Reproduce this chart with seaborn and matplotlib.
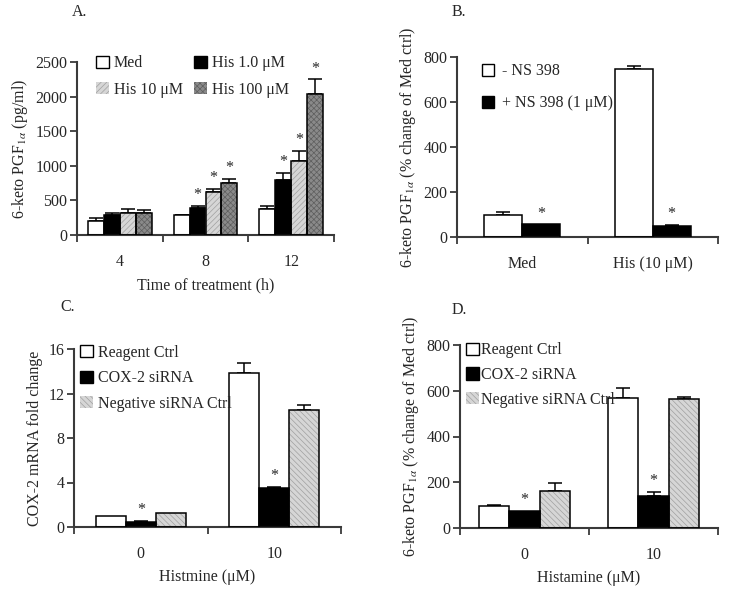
import pandas as pd
import matplotlib.pyplot as plt
import seaborn as sns
from matplotlib.patches import Patch, Rectangle

# ---- data ----
# Panel A: 6-keto PGF1a (pg/ml) by time of treatment
a_times = ['4', '8', '12']
a_series = ['Med', 'His 1.0 μM', 'His 10 μM', 'His 100 μM']
a_values = {
    'Med':        [205, 285, 380],
    'His 1.0 μM': [285, 385, 800],
    'His 10 μM':  [325, 620, 1070],
    'His 100 μM': [325, 750, 2035],
}
a_errors = {
    'Med':        [35, 10, 40],
    'His 1.0 μM': [40, 40, 95],
    'His 10 μM':  [55, 45, 145],
    'His 100 μM': [35, 65, 215],
}
a_stars = {'His 1.0 μM': [1, 2], 'His 10 μM': [1, 2], 'His 100 μM': [1, 2]}

# Panel B: % change of Med ctrl, with / without NS 398
b_groups = ['Med', 'His (10 μM)']
b_series = ['- NS 398', '+ NS 398 (1 μM)']
b_values = {'- NS 398': [100, 745], '+ NS 398 (1 μM)': [56, 50]}
b_errors = {'- NS 398': [12, 16], '+ NS 398 (1 μM)': [0, 5]}
b_stars = {'+ NS 398 (1 μM)': [0, 1]}

# Panel C: COX-2 mRNA fold change
c_groups = ['0', '10']
c_series = ['Reagent Ctrl', 'COX-2 siRNA', 'Negative siRNA Ctrl']
c_values = {'Reagent Ctrl': [1.0, 13.85], 'COX-2 siRNA': [0.42, 3.5],
            'Negative siRNA Ctrl': [1.25, 10.5]}
c_errors = {'Reagent Ctrl': [0, 0.85], 'COX-2 siRNA': [0.1, 0.1],
            'Negative siRNA Ctrl': [0, 0.5]}
c_stars = {'COX-2 siRNA': [0, 1]}

# Panel D: 6-keto PGF1a % change, siRNA
d_groups = ['0', '10']
d_series = ['Reagent Ctrl', 'COX-2 siRNA', 'Negative siRNA Ctrl']
d_values = {'Reagent Ctrl': [95, 570], 'COX-2 siRNA': [74, 138],
            'Negative siRNA Ctrl': [163, 563]}
d_errors = {'Reagent Ctrl': [5, 40], 'COX-2 siRNA': [0, 20],
            'Negative siRNA Ctrl': [32, 10]}
d_stars = {'COX-2 siRNA': [0, 1]}

# fill colour and hatch per style
STYLES = {
    'white': ('white', None, None),
    'black': ('black', None, None),
    'light': ('#d6d6d6', '//////', '#a0a0a0'),
    'dark':  ('#8a8a8a', 'xxxxxx', '#5e5e5e'),
    'lightb': ('#d6d6d6', '\\\\\\\\\\\\', '#a0a0a0'),
}

sns.set_style('white')
plt.rcParams['font.family'] = ['Liberation Serif', 'DejaVu Serif']
plt.rcParams['mathtext.fontset'] = 'stix'
plt.rcParams['hatch.linewidth'] = 0.5
FS = 11.5


def draw_panel(ax, groups, series, values, errors, stars, styles, width, ymax, yticks):
    df = pd.DataFrame([(g, s, values[s][i]) for s in series for i, g in enumerate(groups)],
                      columns=['group', 'series', 'value'])
    sns.barplot(data=df, x='group', y='value', hue='series', order=groups,
                hue_order=series, width=width, gap=0, dodge=True, legend=False,
                palette=['white'] * len(series), ax=ax, zorder=2)
    handles = []
    for cont, s, st in zip(ax.containers, series, styles):
        face, hatch, hcol = STYLES[st]
        for i, p in enumerate(cont.patches):
            p.set_facecolor(face)
            p.set_linewidth(0)
            if hatch:
                p.set_hatch(hatch)
                p.set_edgecolor(hcol)
            ax.add_patch(Rectangle(p.get_xy(), p.get_width(), p.get_height(),
                                   fill=False, edgecolor='black', lw=1.1, zorder=3))
            xc = p.get_x() + p.get_width() / 2
            top = p.get_height()
            err = errors[s][i]
            if err > 0:
                ax.errorbar(xc, top, yerr=[[0], [err]], fmt='none', ecolor='black',
                            elinewidth=1.1, capsize=5, capthick=1.1, zorder=1)
            if i in stars.get(s, []):
                ax.annotate('*', (xc, top + err), xytext=(0, 2), textcoords='offset points',
                            ha='center', va='bottom', fontsize=FS)
        handles.append(Patch(facecolor=face, hatch=hatch,
                             edgecolor=hcol if hatch else 'black', lw=0 if hatch else 1))
    ax.set_ylim(0, ymax)
    ax.set_yticks(yticks)
    ax.set_xlim(-0.5, len(groups) - 0.5)
    ax.set_xticks(range(len(groups)))
    ax.set_xticks([i - 0.5 for i in range(len(groups) + 1)], minor=True)
    ax.tick_params(axis='x', which='major', length=0, pad=14, labelsize=FS)
    ax.tick_params(axis='x', which='minor', length=5, width=1.3, direction='out',
                   bottom=True, color='#3a3a3a')
    ax.tick_params(axis='y', length=5, width=1.3, direction='out', left=True,
                   labelsize=FS, color='#3a3a3a', pad=2)
    for sp in ['top', 'right']:
        ax.spines[sp].set_visible(False)
    for sp in ['left', 'bottom']:
        ax.spines[sp].set_color('#3a3a3a')
        ax.spines[sp].set_linewidth(1.5)
    ax.set_xlabel('')
    ax.set_ylabel('')
    return handles


def rect(l, r, t, b):
    return [l / 729, 1 - b / 589, (r - l) / 729, (b - t) / 589]


fig = plt.figure(figsize=(7.29, 5.89), dpi=100)
LEG = dict(frameon=False, loc='upper left', fontsize=FS, handlelength=0.8,
           handleheight=0.8, borderaxespad=0)

# A
axA = fig.add_axes(rect(77, 334, 62, 235))
hA = draw_panel(axA, a_times, a_series, a_values, a_errors, a_stars,
                ['white', 'black', 'light', 'dark'], 0.74, 2500, range(0, 2501, 500))
order = [0, 2, 1, 3]
axA.legend([hA[i] for i in order], [a_series[i] for i in order], ncol=2,
           bbox_to_anchor=(0.05, 1.075), handletextpad=0.3, columnspacing=0.7,
           labelspacing=0.65, **LEG)
axA.set_ylabel('6-keto PGF$_{1\\alpha}$ (pg/ml)', fontsize=FS)
axA.set_xlabel('Time of treatment (h)', fontsize=FS, labelpad=5)
fig.text(72 / 729, 1 - 12 / 589, 'A.', fontsize=FS, va='center')

# B
axB = fig.add_axes(rect(457, 718, 57, 237))
hB = draw_panel(axB, b_groups, b_series, b_values, b_errors, b_stars,
                ['white', 'black'], 0.58, 800, range(0, 801, 200))
axB.legend(hB, b_series, bbox_to_anchor=(0.07, 1.0), handletextpad=0.5,
           labelspacing=1.0, **LEG)
axB.set_ylabel('6-keto PGF$_{1\\alpha}$ (% change of Med ctrl)', fontsize=FS)
fig.text(452 / 729, 1 - 12 / 589, 'B.', fontsize=FS, va='center')

# C
axC = fig.add_axes(rect(74, 341, 349, 527))
hC = draw_panel(axC, c_groups, c_series, c_values, c_errors, c_stars,
                ['white', 'black', 'lightb'], 0.675, 16, range(0, 17, 4))
axC.legend(hC, c_series, bbox_to_anchor=(0.0, 1.06), handletextpad=0.3,
           labelspacing=0.6, **LEG)
axC.set_ylabel('COX-2 mRNA fold change', fontsize=FS)
axC.set_xlabel('Histmine (μM)', fontsize=FS, labelpad=5)
fig.text(60 / 729, 1 - 307 / 589, 'C.', fontsize=FS, va='center')

# D
axD = fig.add_axes(rect(460, 718, 345, 528))
hD = draw_panel(axD, d_groups, d_series, d_values, d_errors, d_stars,
                ['white', 'black', 'lightb'], 0.70, 800, range(0, 801, 200))
axD.legend(hD, d_series, bbox_to_anchor=(0.0, 1.05), handletextpad=0.1,
           labelspacing=0.55, **LEG)
axD.set_ylabel('6-keto PGF$_{1\\alpha}$ (% change of Med ctrl)', fontsize=FS)
axD.set_xlabel('Histamine (μM)', fontsize=FS, labelpad=5)
fig.text(452 / 729, 1 - 310 / 589, 'D.', fontsize=FS, va='center')

fig.savefig('out.png', dpi=100)
